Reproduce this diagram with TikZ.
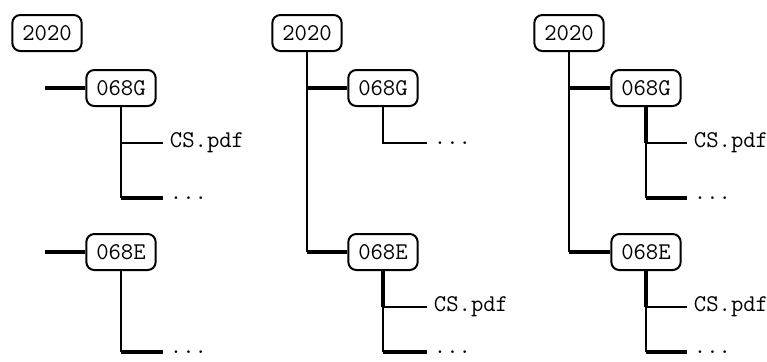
\documentclass[tikz,border=0pt]{standalone}
\usepackage{tikz}
\usetikzlibrary{positioning,calc}

\begin{document}
\begin{tikzpicture}[x=0.75pt,y=-0.75pt,
  dirbox/.style={draw,line width=1.5pt,rounded corners=6pt,minimum width=52pt,minimum height=27pt,inner sep=2pt,font=\fontsize{18}{18}\selectfont\ttfamily},
  leaf/.style={anchor=west,inner xsep=5pt,inner ysep=0pt,font=\fontsize{18}{18}\selectfont\ttfamily},
  trunk/.style={line width=1.5pt},
  stub/.style={line width=3pt}]
\useasboundingbox (0,0) rectangle (767,361);
% first tree
\node[dirbox] (rootA) at (47,33) {2020};
\node[dirbox] (gA) at (121,88) {068G};
\node[dirbox] (eA) at (121,252) {068E};
\coordinate (gAin) at (45,88); \coordinate (eAin) at (45,252);
\node[leaf] (gA1) at (163,143) {CS.pdf};
\node[leaf] (gA2) at (163,198) {...};
\node[leaf] (eA1) at (163,352) {...};
\draw[stub] (gAin) -- (gA); \draw[stub] (eAin) -- (eA);
\draw[trunk] (gA.south) |- (gA1.west); \draw[trunk] (gA.south) -- (gA.south |- gA2.west);
\draw[stub] (gA.south |- gA2.west) -- (gA2.west);
\draw[trunk] (eA.south) -- (eA.south |- eA1.west); \draw[stub] (eA.south |- eA1.west) -- (eA1.west);
% second tree
\node[dirbox] (rootB) at (307,33) {2020};
\node[dirbox] (gB) at (383,88) {068G};
\node[dirbox] (eB) at (383,252) {068E};
\node[leaf] (gB1) at (427,143) {...};
\node[leaf] (eB1) at (427,307) {CS.pdf};
\node[leaf] (eB2) at (427,352) {...};
\draw[trunk] (rootB.south) -- (rootB.south |- eB.west);
\draw[stub] (rootB.south |- gB.west) -- (gB.west); \draw[stub] (rootB.south |- eB.west) -- (eB.west);
\draw[trunk] (gB.south) |- (gB1.west);
\draw[stub] (eB.south) -- (eB.south |- eB1.west);
\draw[trunk] (eB.south |- eB1.west) -- (eB1.west); \draw[trunk] (eB.south |- eB1.west) -- (eB.south |- eB2.west);
\draw[stub] (eB.south |- eB2.west) -- (eB2.west);
% third tree
\node[dirbox] (rootC) at (569,33) {2020};
\node[dirbox] (gC) at (646,88) {068G};
\node[dirbox] (eC) at (646,252) {068E};
\node[leaf] (gC1) at (687,143) {CS.pdf};
\node[leaf] (gC2) at (687,198) {...};
\node[leaf] (eC1) at (687,307) {CS.pdf};
\node[leaf] (eC2) at (687,352) {...};
\draw[trunk] (rootC.south) -- (rootC.south |- eC.west);
\draw[stub] (rootC.south |- gC.west) -- (gC.west); \draw[stub] (rootC.south |- eC.west) -- (eC.west);
\draw[stub] (gC.south) -- (gC.south |- gC1.west);
\draw[trunk] (gC.south |- gC1.west) -- (gC1.west); \draw[trunk] (gC.south |- gC1.west) -- (gC.south |- gC2.west);
\draw[stub] (gC.south |- gC2.west) -- (gC2.west);
\draw[stub] (eC.south) -- (eC.south |- eC1.west);
\draw[trunk] (eC.south |- eC1.west) -- (eC1.west); \draw[trunk] (eC.south |- eC1.west) -- (eC.south |- eC2.west);
\draw[stub] (eC.south |- eC2.west) -- (eC2.west);
\end{tikzpicture}
\end{document}
